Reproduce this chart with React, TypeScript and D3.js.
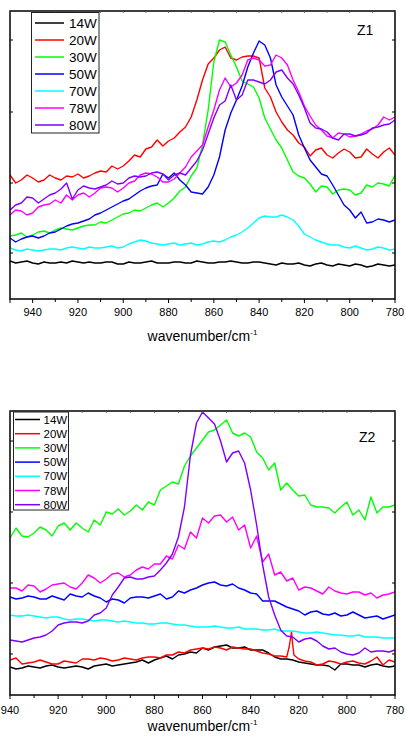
import React from 'react';
import * as d3 from 'd3';

// wavenumber grids (cm-1): main readings every 5 cm-1, mid readings in between
const wnZ1 = d3.range(950, 779, -2.5);
const wnZ2 = d3.range(940, 779, -2.5);

const seriesNames = ['14W', '20W', '30W', '50W', '70W', '78W', '80W'];
const seriesColors = ['#000000', '#ff0000', '#00ff00', '#0000ff', '#00ffff', '#ff00ff', '#8000ff'];

// Z1 intensities (a.u.), at 950, 945, ... 780
const z1_14W = [38, 37, 36, 37, 36, 36, 37, 37, 36, 37, 35, 36, 37, 36, 36, 37, 36, 37, 36, 37, 37, 36, 37, 35, 36, 35, 34, 35, 34, 35, 33, 34, 33, 34, 34];
const z1_20W = [124, 119, 121, 119, 121, 123, 125, 123, 128, 133, 133, 144, 150, 159, 158, 167, 182, 219, 241, 252, 239, 243, 241, 202, 177, 164, 152, 149, 144, 146, 147, 142, 145, 147, 144];
const z1_30W = [63, 66, 64, 68, 69, 70, 71, 74, 77, 79, 85, 89, 91, 96, 96, 108, 123, 154, 237, 257, 232, 215, 201, 170, 151, 127, 121, 107, 112, 109, 109, 106, 112, 115, 124];
const z1_50W = [61, 60, 63, 63, 67, 73, 76, 80, 86, 92, 98, 104, 111, 114, 121, 119, 107, 105, 124, 169, 199, 232, 258, 241, 202, 184, 151, 132, 123, 104, 89, 87, 77, 79, 79];
const z1_70W = [51, 48, 49, 49, 50, 51, 51, 52, 51, 53, 52, 57, 58, 55, 55, 54, 56, 55, 58, 59, 64, 71, 81, 82, 84, 79, 65, 59, 55, 54, 51, 51, 50, 51, 50];
const z1_78W = [84, 88, 86, 94, 99, 104, 104, 102, 111, 111, 111, 118, 126, 122, 117, 126, 142, 154, 189, 221, 216, 239, 239, 234, 241, 219, 193, 174, 163, 166, 162, 165, 170, 182, 182];
const z1_80W = [89, 96, 101, 100, 106, 116, 109, 111, 112, 118, 116, 123, 123, 127, 119, 126, 131, 149, 181, 198, 199, 219, 217, 219, 229, 215, 191, 171, 167, 159, 165, 164, 171, 174, 179];
// Z1 mid readings, at 947.5, 942.5, ... 782.5
const z1_14WMid = [36, 38, 35, 36, 37, 38, 36, 36, 37, 35, 37, 36, 38, 36, 37, 36, 38, 36, 37, 38, 36, 37, 36, 34, 35, 36, 33, 36, 33, 34, 35, 32, 35, 33];
const z1_20WMid = [116, 124, 117, 124, 119, 122, 121, 126, 127, 130, 138, 142, 152, 153, 161, 172, 199, 235, 249, 241, 242, 243, 211, 187, 169, 156, 143, 151, 141, 150, 141, 150, 141, 151];
const z1_30WMid = [64, 62, 67, 66, 71, 69, 73, 74, 76, 82, 86, 88, 94, 92, 101, 112, 131, 189, 259, 244, 218, 212, 181, 159, 139, 123, 115, 113, 105, 110, 104, 114, 116, 113];
const z1_50WMid = [57, 62, 61, 66, 70, 75, 78, 84, 89, 95, 100, 108, 113, 125, 126, 114, 106, 112, 142, 186, 213, 246, 254, 214, 193, 164, 139, 125, 114, 94, 81, 76, 80, 77];
const z1_70WMid = [49, 50, 48, 50, 49, 52, 50, 51, 52, 51, 55, 59, 56, 54, 56, 55, 54, 57, 57, 62, 67, 76, 83, 82, 82, 73, 62, 57, 54, 52, 53, 49, 52, 49];
const z1_78WMid = [89, 84, 92, 95, 96, 99, 106, 106, 112, 107, 116, 124, 125, 117, 120, 132, 148, 172, 209, 212, 224, 241, 233, 244, 234, 207, 183, 169, 161, 165, 163, 168, 174, 179];
const z1_80WMid = [94, 102, 96, 104, 110, 100, 113, 110, 114, 115, 121, 122, 126, 125, 124, 124, 138, 165, 194, 214, 204, 219, 215, 227, 221, 204, 176, 170, 161, 165, 163, 166, 172, 175];

// Z2 intensities (a.u.), at 940, 935, ... 780
const z2_14W = [28, 27, 28, 29, 28, 28, 28, 29, 31, 30, 32, 35, 35, 39, 40, 43, 47, 48, 50, 47, 45, 45, 38, 36, 33, 31, 30, 25, 31, 30, 30, 29, 29];
const z2_20W = [35, 31, 33, 33, 31, 33, 36, 35, 36, 35, 36, 37, 38, 40, 43, 45, 47, 48, 45, 47, 46, 42, 39, 38, 36, 33, 31, 33, 33, 32, 34, 30, 33];
const z2_30W = [157, 159, 162, 165, 169, 165, 167, 175, 183, 186, 184, 185, 190, 209, 211, 239, 255, 265, 275, 259, 258, 237, 232, 212, 199, 190, 188, 182, 193, 185, 198, 188, 190];
const z2_50W = [98, 97, 98, 96, 97, 101, 98, 99, 93, 95, 97, 98, 99, 96, 104, 105, 110, 113, 109, 107, 102, 94, 94, 88, 84, 83, 81, 82, 80, 80, 78, 76, 80];
const z2_70W = [80, 79, 79, 77, 78, 75, 76, 74, 75, 73, 73, 72, 71, 72, 70, 69, 68, 69, 67, 68, 66, 65, 66, 64, 63, 62, 62, 60, 59, 60, 58, 57, 57];
const z2_78W = [107, 104, 109, 106, 111, 108, 112, 117, 116, 122, 120, 128, 131, 139, 150, 163, 177, 179, 173, 165, 147, 133, 120, 114, 105, 107, 101, 104, 101, 103, 102, 100, 103];
const z2_80W = [55, 53, 57, 60, 70, 73, 72, 80, 87, 108, 118, 116, 119, 132, 158, 240, 283, 271, 233, 244, 205, 130, 80, 59, 53, 57, 49, 47, 41, 42, 43, 44, 45];
// Z2 mid readings, at 937.5, 932.5, ... 782.5
const z2_14WMid = [26, 29, 27, 30, 27, 29, 26, 30, 29, 31, 33, 32, 37, 36, 41, 42, 45, 49, 47, 48, 45, 42, 36, 35, 32, 30, 29, 31, 30, 28, 31, 28];
const z2_20WMid = [37, 32, 35, 31, 34, 32, 36, 37, 34, 37, 35, 38, 37, 40, 42, 46, 46, 47, 48, 46, 44, 41, 39, 50, 34, 30, 34, 31, 34, 31, 38, 35];
const z2_30WMid = [167, 158, 168, 159, 172, 172, 163, 170, 181, 180, 190, 193, 205, 213, 229, 247, 263, 270, 262, 262, 243, 225, 205, 205, 200, 188, 187, 188, 180, 175, 182, 188];
const z2_50WMid = [96, 99, 96, 99, 95, 99, 102, 97, 96, 92, 98, 97, 101, 98, 102, 107, 112, 110, 111, 105, 101, 94, 91, 86, 80, 84, 80, 79, 83, 77, 79, 78];
const z2_70WMid = [79, 80, 78, 78, 76, 76, 75, 75, 74, 74, 72, 71, 72, 71, 70, 68, 68, 68, 67, 66, 66, 65, 64, 64, 62, 63, 61, 60, 59, 58, 58, 57];
const z2_78WMid = [107, 110, 103, 110, 112, 106, 120, 112, 121, 118, 125, 126, 131, 136, 146, 157, 172, 180, 178, 170, 159, 141, 123, 117, 108, 104, 108, 102, 103, 100, 97, 101];
const z2_80WMid = [54, 55, 58, 64, 72, 73, 74, 82, 100, 117, 116, 118, 125, 141, 188, 272, 277, 254, 242, 232, 170, 98, 65, 58, 56, 54, 46, 43, 40, 47, 44, 43];
// sharp spike in the 20W trace near 823 cm-1
const z2_20WSpike: [number, number][] = [[824, 48], [823, 63], [822, 40]];

const xTicksZ1 = [940, 920, 900, 880, 860, 840, 820, 800, 780];
const xTicksZ2 = [940, 920, 900, 880, 860, 840, 820, 800, 780];
const yTicksZ1 = [46, 116, 187, 259];
const yTicksZ2 = [41, 112, 183, 254];

const font = 'Arial, "Liberation Sans", Helvetica, sans-serif';

type Pt = [number, number];

// interleave the 5 cm-1 readings with the mid readings
const weave = (main: number[], mid: number[]) =>
  main.flatMap((v, i) => (i < mid.length ? [v, mid[i]] : [v]));

const zip = (wn: number[], vals: number[]): Pt[] => wn.map((w, i) => [w, vals[i]] as Pt);

function Panel(props: any) {
  const { box, xDomain, yMax, series, xTicks, yTicks, tag, tagX, tagY, legend, labelY, titleY, id } = props;
  const x = d3.scaleLinear().domain(xDomain).range([box.l, box.r]);
  const y = d3.scaleLinear().domain([0, yMax]).range([box.b, box.t]);
  const line = d3.line<Pt>().x(d => x(d[0])).y(d => y(d[1]));
  const minor = d3.range(xDomain[1], xDomain[0] + 1, 10);
  const cx = (box.l + box.r) / 2;

  return (
    <g>
      <defs>
        <clipPath id={id}>
          <rect x={box.l} y={box.t} width={box.r - box.l} height={box.b - box.t} />
        </clipPath>
      </defs>
      <g clipPath={`url(#${id})`}>
        {series.map((s: any, i: number) => (
          <path key={i} d={line(s.pts) || ''} fill="none" stroke={s.color} strokeWidth={1.4} strokeLinejoin="round" />
        ))}
      </g>
      {/* frame */}
      <rect x={box.l} y={box.t} width={box.r - box.l} height={box.b - box.t} fill="none" stroke="#000" strokeWidth={1.5} />
      {minor.map(v => {
        const major = xTicks.includes(v) || v === xDomain[0];
        return (
          <g key={v}>
            <line x1={x(v)} x2={x(v)} y1={box.b} y2={box.b + (major ? 4 : 3)} stroke="#000" strokeWidth={1} />
            <line x1={x(v)} x2={x(v)} y1={box.t} y2={box.t + 2} stroke="#555" strokeWidth={0.8} />
          </g>
        );
      })}
      {yTicks.map((v: number) => (
        <g key={v}>
          <line x1={box.l} x2={box.l + 3} y1={y(v)} y2={y(v)} stroke="#000" strokeWidth={1} />
          <line x1={box.r - 3} x2={box.r} y1={y(v)} y2={y(v)} stroke="#000" strokeWidth={1} />
        </g>
      ))}
      {xTicks.map((v: number) => (
        <text key={v} x={x(v)} y={labelY} textAnchor="middle" fontSize={11} fontFamily={font} fill="#000">
          {v}
        </text>
      ))}
      <text x={cx} y={titleY} textAnchor="middle" fontSize={14} fontFamily={font} fill="#000">
        wavenumber/cm<tspan dy={-6} fontSize={8}>-1</tspan>
      </text>
      <text x={tagX} y={tagY} fontSize={14} fontFamily={font} fill="#000">{tag}</text>
      {/* legend */}
      <rect x={legend.x} y={legend.y} width={legend.w} height={legend.h} fill="#fff" stroke="#222" strokeWidth={1} />
      {series.map((s: any, i: number) => {
        const ry = legend.row0 + i * legend.step;
        return (
          <g key={i}>
            <line x1={legend.lx0} x2={legend.lx1} y1={ry} y2={ry} stroke={s.color} strokeWidth={1.5} />
            <text x={legend.tx} y={ry + legend.fs * 0.36} fontSize={legend.fs} fontFamily={font} fill="#000">{s.name}</text>
          </g>
        );
      })}
    </g>
  );
}

export default function App() {
  const z1Vals = [
    weave(z1_14W, z1_14WMid), weave(z1_20W, z1_20WMid), weave(z1_30W, z1_30WMid), weave(z1_50W, z1_50WMid),
    weave(z1_70W, z1_70WMid), weave(z1_78W, z1_78WMid), weave(z1_80W, z1_80WMid),
  ];
  const z2Vals = [
    weave(z2_14W, z2_14WMid), weave(z2_20W, z2_20WMid), weave(z2_30W, z2_30WMid), weave(z2_50W, z2_50WMid),
    weave(z2_70W, z2_70WMid), weave(z2_78W, z2_78WMid), weave(z2_80W, z2_80WMid),
  ];

  const z1Series = z1Vals.map((v, i) => ({ name: seriesNames[i], color: seriesColors[i], pts: zip(wnZ1, v) }));
  const z2Series = z2Vals.map((v, i) => {
    let pts = zip(wnZ2, v);
    if (i === 1) pts = pts.concat(z2_20WSpike).sort((a, b) => b[0] - a[0]);
    return { name: seriesNames[i], color: seriesColors[i], pts };
  });

  return (
    <div style={{ position: 'absolute', left: 0, top: 0, width: 406, height: 742, background: '#fff' }}>
      <svg width={406} height={742} style={{ display: 'block' }}>
        <rect width={406} height={742} fill="#fff" />
        <Panel
          id="clipZ1"
          box={{ l: 10, r: 395, t: 11, b: 299 }}
          xDomain={[950, 780]}
          yMax={288}
          series={z1Series}
          xTicks={xTicksZ1}
          yTicks={yTicksZ1}
          tag="Z1"
          tagX={357}
          tagY={35}
          labelY={316}
          titleY={341}
          legend={{ x: 31.5, y: 12.5, w: 67.5, h: 120.5, row0: 23, step: 17, lx0: 35, lx1: 64, tx: 69, fs: 13.5 }}
        />
        <Panel
          id="clipZ2"
          box={{ l: 10, r: 395, t: 411, b: 695 }}
          xDomain={[940, 780]}
          yMax={284}
          series={z2Series}
          xTicks={xTicksZ2}
          yTicks={yTicksZ2}
          tag="Z2"
          tagX={359}
          tagY={442}
          labelY={713.5}
          titleY={730.5}
          legend={{ x: 13.5, y: 412, w: 55, h: 98, row0: 419.5, step: 14.2, lx0: 15, lx1: 40, tx: 43.5, fs: 11.5 }}
        />
      </svg>
    </div>
  );
}
